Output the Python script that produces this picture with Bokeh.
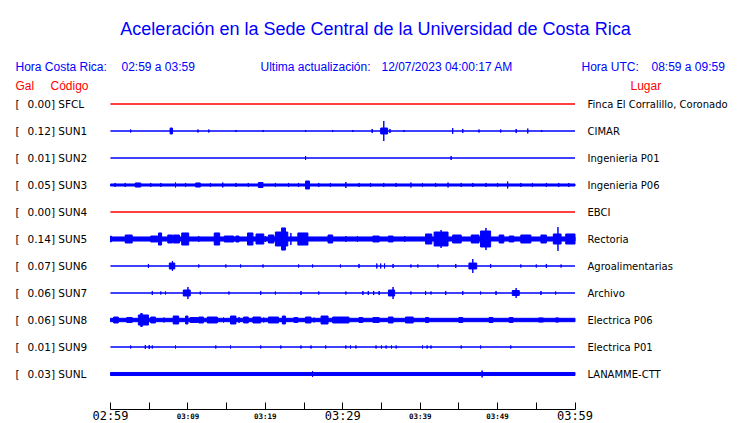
from bokeh.plotting import figure
from bokeh.models import ColumnDataSource, Range1d, FixedTicker, Label, LabelSet, LinearAxis
from bokeh.core.properties import value
from bokeh.embed import file_html
from bokeh.resources import INLINE

# ---------------- texts ----------------
TITLE = "Aceleración en la Sede Central de la Universidad de Costa Rica"
LOCAL_LABEL = "Hora Costa Rica:"
LOCAL_SPAN = "02:59 a 03:59"
UPDATE_LABEL = "Ultima actualización:"
UPDATE_TIME = "12/07/2023 04:00:17 AM"
UTC_LABEL = "Hora UTC:"
UTC_SPAN = "08:59 a 09:59"
HEAD_GAL = "Gal"
HEAD_CODE = "Código"
HEAD_PLACE = "Lugar"

# ---------------- stations ----------------
CODES = ["SFCL", "SUN1", "SUN2", "SUN3", "SUN4", "SUN5", "SUN6", "SUN7", "SUN8", "SUN9", "SUNL"]
PEAK_GAL = [0.00, 0.12, 0.01, 0.05, 0.00, 0.14, 0.07, 0.06, 0.06, 0.01, 0.03]
PLACES = ["Finca El Corralillo, Coronado", "CIMAR", "Ingenieria P01", "Ingenieria P06", "EBCI",
          "Rectoria", "Agroalimentarias", "Archivo", "Electrica P06", "Electrica P01", "LANAMME-CTT"]
# background noise half-amplitude (Gal)
NOISE_GAL = [0.0, 0.0, 0.0, 0.012, 0.0, 0.024, 0.0, 0.0, 0.02, 0.0, 0.018]

# bursts: (start minute after 02:59, end minute, half-amplitude in Gal)
BURSTS_SFCL = []
BURSTS_SUN1 = [(2.6, 2.6, .018), (7.7, 8.0, .035), (11.3, 11.3, .018), (12.7, 12.7, .018), (16.2, 16.2, .012),
               (19.7, 19.7, .012), (25.2, 25.2, .012), (28.7, 28.7, .012), (31.3, 31.3, .012), (33.8, 33.8, .024),
               (34.9, 35.8, .035), (35.3, 35.3, .118), (36.1, 36.1, .024), (37.9, 37.9, .012), (44.2, 44.2, .035),
               (45.5, 45.5, .024), (47.6, 47.6, .018), (50.4, 50.4, .018), (52.4, 52.4, .024), (53.9, 53.9, .029),
               (55.7, 55.7, .012)]
BURSTS_SUN2 = [(25.2, 25.2, .024), (44.0, 44.0, .024)]
BURSTS_SUN3 = [(0.6, 0.6, .024), (1.9, 1.9, .024), (3.2, 3.9, .024), (5.2, 5.2, .024), (6.5, 6.5, .024),
               (8.4, 8.4, .029), (9.7, 9.7, .024), (11.0, 11.6, .024), (12.9, 12.9, .024), (14.5, 14.5, .029),
               (16.2, 16.2, .024), (17.8, 17.8, .024), (19.1, 19.7, .029), (21.3, 21.3, .024), (23.0, 23.0, .024),
               (24.3, 24.3, .024), (25.2, 25.7, .047), (26.9, 26.9, .024), (28.4, 28.4, .024), (30.4, 30.4, .035),
               (32.1, 32.1, .024), (33.6, 33.6, .024), (35.3, 35.3, .024), (36.9, 36.9, .024), (38.8, 38.8, .029),
               (40.3, 40.3, .024), (42.0, 42.0, .024), (43.6, 43.6, .029), (45.3, 45.3, .024), (46.8, 46.8, .024),
               (48.5, 48.5, .024), (50.0, 50.0, .024), (51.3, 51.3, .041), (53.0, 53.0, .024), (54.5, 54.5, .024),
               (56.3, 56.3, .024), (57.9, 57.9, .024), (59.2, 59.2, .024)]
BURSTS_SUN4 = []
BURSTS_SUN5 = [(0.0, 0.1, .035), (1.9, 2.8, .047), (5.2, 6.1, .035), (6.2, 6.6, .071), (7.4, 8.0, .047),
               (8.1, 8.9, .047), (9.2, 10.1, .071), (11.4, 11.4, .035), (13.4, 14.1, .071), (14.7, 15.9, .035),
               (16.2, 16.6, .035), (17.7, 18.4, .071), (18.8, 19.8, .059), (20.0, 20.0, .035), (20.4, 21.1, .047),
               (21.3, 22.9, .082), (22.1, 22.6, .13), (23.3, 23.3, .071), (24.2, 25.5, .071), (28.1, 28.7, .047),
               (29.4, 29.4, .024), (30.0, 30.0, .024), (30.4, 30.4, .035), (31.9, 31.9, .035), (33.9, 34.7, .035),
               (35.9, 36.5, .035), (38.0, 38.0, .035), (38.8, 38.8, .024), (40.7, 41.5, .059), (41.8, 43.6, .082),
               (42.7, 42.7, .106), (44.2, 45.3, .047), (46.6, 47.6, .047), (47.8, 49.1, .094), (48.5, 48.5, .13),
               (50.2, 50.8, .047), (51.5, 52.1, .035), (53.0, 54.3, .047), (55.6, 56.3, .047), (57.2, 58.2, .059),
               (57.8, 57.8, .14), (58.8, 60.0, .059)]
BURSTS_SUN6 = [(4.9, 4.9, .024), (7.6, 8.3, .035), (8.0, 8.0, .059), (11.4, 11.4, .018), (14.9, 14.9, .018),
               (16.8, 16.8, .018), (19.7, 19.7, .018), (24.3, 24.3, .018), (26.1, 26.1, .018), (29.7, 29.7, .018),
               (32.1, 32.1, .024), (34.4, 34.4, .029), (34.9, 34.9, .029), (35.4, 35.4, .029), (36.5, 36.5, .024),
               (38.8, 38.8, .018), (39.7, 39.7, .018), (42.3, 42.3, .018), (44.6, 44.6, .024), (46.3, 47.3, .035),
               (46.8, 46.8, .082), (49.1, 49.1, .024), (53.0, 53.0, .018), (55.0, 55.0, .018), (56.3, 56.3, .024),
               (58.2, 58.2, .018)]
BURSTS_SUN7 = [(5.4, 5.4, .024), (6.5, 6.5, .018), (7.1, 7.1, .018), (9.4, 10.3, .035), (10.0, 10.0, .071),
               (11.6, 11.6, .018), (15.3, 15.3, .018), (19.4, 19.4, .024), (21.3, 21.3, .018), (24.6, 24.6, .024),
               (26.9, 26.9, .018), (30.4, 30.4, .018), (32.6, 32.6, .024), (33.3, 33.3, .024), (34.0, 34.0, .024),
               (34.7, 34.7, .024), (35.9, 36.7, .035), (36.5, 36.5, .071), (38.8, 38.8, .018), (40.7, 40.7, .024),
               (41.4, 41.4, .018), (43.3, 43.3, .024), (45.5, 45.5, .024), (47.8, 47.8, .018), (49.8, 49.8, .024),
               (51.9, 52.8, .029), (52.4, 52.4, .059), (55.6, 55.6, .024), (57.5, 57.5, .018)]
BURSTS_SUN8 = [(0.4, 1.0, .035), (2.1, 2.8, .029), (3.6, 4.9, .059), (3.9, 4.1, .076), (5.2, 5.8, .035),
               (6.9, 6.9, .029), (8.1, 8.8, .047), (9.7, 10.0, .047), (10.3, 11.3, .029), (11.4, 12.0, .035),
               (12.5, 13.8, .035), (14.6, 14.6, .029), (15.5, 16.2, .047), (16.6, 16.6, .035), (17.2, 17.8, .035),
               (18.4, 19.4, .035), (19.8, 19.8, .029), (20.4, 21.7, .035), (22.2, 22.6, .047), (23.7, 24.2, .029),
               (25.2, 25.9, .035), (26.3, 26.3, .029), (27.2, 28.1, .047), (28.7, 30.8, .035), (32.1, 32.6, .029),
               (33.9, 34.7, .029), (35.9, 36.5, .035), (38.1, 39.1, .035), (40.7, 41.1, .029), (45.0, 45.5, .029),
               (48.9, 49.4, .029), (51.5, 52.0, .029), (55.3, 55.9, .024), (57.5, 57.9, .024)]
BURSTS_SUN9 = [(2.6, 2.6, .018), (4.5, 4.5, .024), (5.0, 5.0, .024), (5.4, 5.4, .018), (8.4, 8.4, .018),
               (13.6, 13.6, .018), (15.5, 15.5, .018), (19.4, 19.4, .018), (22.0, 22.0, .018), (24.6, 24.6, .018),
               (25.9, 25.9, .018), (27.8, 27.8, .018), (30.4, 30.4, .018), (31.0, 31.0, .018), (31.7, 31.7, .018),
               (34.3, 34.3, .018), (35.0, 35.0, .018), (35.6, 35.6, .018), (36.3, 36.3, .018), (36.9, 36.9, .018),
               (40.3, 40.3, .018), (40.9, 40.9, .018), (41.4, 41.4, .018), (45.3, 45.3, .018), (47.8, 47.8, .018),
               (51.7, 51.7, .018)]
BURSTS_SUNL = [(26.1, 26.1, .035), (48.0, 48.0, .041)]
BURSTS = [BURSTS_SFCL, BURSTS_SUN1, BURSTS_SUN2, BURSTS_SUN3, BURSTS_SUN4, BURSTS_SUN5,
          BURSTS_SUN6, BURSTS_SUN7, BURSTS_SUN8, BURSTS_SUN9, BURSTS_SUNL]

WINDOW_MIN = [0, 60]
TICK_MINUTES = [0, 5, 10, 15, 20, 25, 30, 35, 40, 45, 50, 55, 60]
LABEL_MINUTES = [0, 10, 20, 30, 40, 50, 60]
LABEL_TEXT = ["02:59", "03:09", "03:19", "03:29", "03:39", "03:49", "03:59"]
LABEL_BIG = [True, False, False, True, False, False, True]

# ---------------- style / layout ----------------
BLUE = "#0000ff"
RED = "#ff0000"
GAIN = 3.15            # row spacings per Gal
W, H = 740, 423
X0, X60 = 110.0, 574.5         # pixel span of the 60-minute window
ROW0, ROW_DY = 103.5, 27.0     # pixel centre of first row, row spacing
AXIS_PX = 409.0
PPM = (X60 - X0) / 60.0
SANS = "Liberation Sans"
DJV = "DejaVu Sans"
MONO = "DejaVu Sans Mono"

p = figure(width=W, height=H, output_backend="svg", toolbar_location=None, title=None,
           x_range=Range1d(-X0 / PPM, (W - X0) / PPM),
           y_range=Range1d((H - ROW0) / ROW_DY, -ROW0 / ROW_DY),
           x_axis_location=None, y_axis_location=None,
           min_border_left=0, min_border_right=0, min_border_top=0, min_border_bottom=0)
p.xgrid.visible = False
p.ygrid.visible = False
p.outline_line_color = None
p.background_fill_color = "white"
p.border_fill_color = "white"

# traces
L, R, B, T, C = [], [], [], [], []
for i, code in enumerate(CODES):
    col = RED if PEAK_GAL[i] == 0 else BLUE
    n = NOISE_GAL[i] * GAIN
    L.append(WINDOW_MIN[0]); R.append(WINDOW_MIN[1]); B.append(i - n); T.append(i + n); C.append(col)
    for (t0, t1, a) in BURSTS[i]:
        L.append(t0); R.append(t1); B.append(i - a * GAIN); T.append(i + a * GAIN); C.append(col)
src = ColumnDataSource(dict(left=L, right=R, bottom=B, top=T, color=C))
p.quad(left="left", right="right", bottom="bottom", top="top", source=src,
       fill_color="color", line_color="color", line_width=1)

# time axes (fixed inside the canvas)
axis_y = (AXIS_PX - ROW0) / ROW_DY
small = LinearAxis(fixed_location=axis_y, bounds=(WINDOW_MIN[0], WINDOW_MIN[1]))
small.ticker = FixedTicker(ticks=TICK_MINUTES, minor_ticks=[])
overrides = {t: "" for t in TICK_MINUTES}
for m, txt, big in zip(LABEL_MINUTES, LABEL_TEXT, LABEL_BIG):
    if not big:
        overrides[m] = txt
small.major_label_overrides = overrides
small.major_tick_in = 7
small.major_tick_out = 0
small.minor_tick_line_color = None
small.axis_line_color = "black"
small.major_tick_line_color = "black"
small.major_label_standoff = 2
small.major_label_text_font = MONO
small.major_label_text_font_size = "7.5px"
small.major_label_text_font_style = "bold"
small.major_label_text_color = "black"
p.add_layout(small, "below")

big = LinearAxis(fixed_location=axis_y, bounds=(WINDOW_MIN[0], WINDOW_MIN[1]))
big.ticker = FixedTicker(ticks=[m for m, b in zip(LABEL_MINUTES, LABEL_BIG) if b], minor_ticks=[])
big.major_label_overrides = {m: t for m, t, b in zip(LABEL_MINUTES, LABEL_TEXT, LABEL_BIG) if b}
big.major_tick_in = 0
big.major_tick_out = 0
big.minor_tick_line_color = None
big.axis_line_color = None
big.major_tick_line_color = None
big.major_label_standoff = -1
big.major_label_text_font = MONO
big.major_label_text_font_size = "12px"
big.major_label_text_color = "black"
p.add_layout(big, "below")


def lab(ix, iy, txt, color, size="12px", font=SANS, align="left"):
    p.add_layout(Label(x=ix, y=H - iy, x_units="screen", y_units="screen", text=txt,
                       text_align=align, text_baseline="alphabetic", text_font=font,
                       text_font_size=size, text_color=color))


lab(375, 28, TITLE, BLUE, size="18px", align="center")
lab(15, 66, LOCAL_LABEL, BLUE)
lab(121, 66, LOCAL_SPAN, BLUE)
lab(260, 66, UPDATE_LABEL, BLUE)
lab(381, 66, UPDATE_TIME, BLUE)
lab(581, 66, UTC_LABEL, BLUE)
lab(651, 66, UTC_SPAN, BLUE)
lab(15, 85, HEAD_GAL, RED)
lab(50, 85, HEAD_CODE, RED)
lab(630, 85, HEAD_PLACE, RED)

rows = ColumnDataSource(dict(
    y=list(range(len(CODES))),
    br=["[" for _ in CODES],
    left=[f"{g:.2f}] {c}" for g, c in zip(PEAK_GAL, CODES)],
    place=PLACES))
for xx, col, size in [(15, "br", "10.5px"), (27, "left", "10.5px"), (587, "place", "10px")]:
    p.add_layout(LabelSet(x=xx, y="y", x_units="screen", y_units="data", text=col, source=rows,
                          text_baseline="middle", text_font=value(DJV), text_font_size=size,
                          text_color="black"))

open("out.html", "w").write(file_html(p, INLINE))
